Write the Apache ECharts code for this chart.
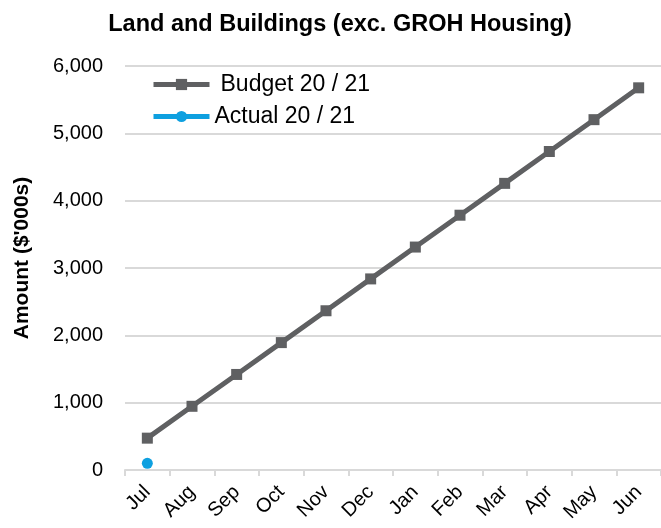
<!DOCTYPE html>
<html lang="en">
<head>
    <meta charset="UTF-8">
    <title>Land and Buildings</title>
    <script src="https://cdn.jsdelivr.net/npm/echarts@6/dist/echarts.min.js"></script>
    <style>
        body { margin: 0; background: #fff; }
        #box1 { width: 661px; height: 528px; }
    </style>
</head>
<body>
<div id="box1"></div>
<script>
    var months = ['Jul', 'Aug', 'Sep', 'Oct', 'Nov', 'Dec', 'Jan', 'Feb', 'Mar', 'Apr', 'May', 'Jun'];
    var budget = [473, 946, 1419, 1892, 2365, 2838, 3311, 3784, 4257, 4730, 5203, 5676];
    var actual = [100, null, null, null, null, null, null, null, null, null, null, null];

    var mycharts1 = echarts.init(document.getElementById('box1'));
    var font = 'Arial, "Liberation Sans", sans-serif';
    var option = {
        animation: false,
        textStyle: { fontFamily: font },
        title: {
            text: 'Land and Buildings (exc. GROH Housing)',
            left: 335, top: 8, textAlign: 'center',
            textStyle: { fontSize: 23.5, fontWeight: 'bold', color: '#000', fontFamily: font }
        },
        legend: [{
            data: ['Budget 20 / 21'],
            left: 151, top: 73, padding: 0,
            itemWidth: 56, itemHeight: 14,
            lineStyle: { width: 5 },
            textStyle: { fontSize: 23, color: '#000', fontFamily: font, padding: [0, 0, 0, 6] }
        }, {
            data: ['Actual 20 / 21'],
            left: 151, top: 105, padding: 0,
            itemWidth: 56, itemHeight: 14,
            lineStyle: { width: 5 },
            textStyle: { fontSize: 23, color: '#000', fontFamily: font, padding: [0, 0, 0, 0] }
        }],
        grid: { left: 125, right: 0, top: 66, bottom: 58, outerBoundsMode: 'none' },
        xAxis: {
            type: 'category',
            data: months,
            boundaryGap: true,
            axisLine: { lineStyle: { color: '#d9d9d9', width: 2 } },
            axisTick: { show: true, length: 6, lineStyle: { color: '#d9d9d9', width: 2 } },
            axisLabel: { rotate: 45, fontSize: 20, color: '#000', margin: 19, fontFamily: font }
        },
        yAxis: {
            type: 'value',
            min: 0, max: 6000, interval: 1000,
            name: "Amount ($'000s)",
            nameLocation: 'middle',
            nameGap: 92,
            nameTextStyle: { fontSize: 21, fontWeight: 'bold', color: '#000', fontFamily: font, padding: [0, 0, 0, 20] },
            axisLine: { show: false },
            axisTick: { show: false },
            splitLine: { lineStyle: { color: '#d9d9d9', width: 2 } },
            axisLabel: {
                fontSize: 20, color: '#000', margin: 22, fontFamily: font,
                formatter: function (v) { return v.toLocaleString('en-US'); }
            }
        },
        series: [{
            name: 'Budget 20 / 21',
            type: 'line',
            data: budget,
            symbol: 'rect',
            symbolSize: 11,
            itemStyle: { color: '#5f6062' },
            lineStyle: { color: '#5f6062', width: 5 }
        }, {
            name: 'Actual 20 / 21',
            type: 'line',
            data: actual,
            symbol: 'circle',
            symbolSize: 11,
            itemStyle: { color: '#0ea0e0' },
            lineStyle: { color: '#0ea0e0', width: 5 }
        }]
    };
    mycharts1.setOption(option);
</script>
</body>
</html>
